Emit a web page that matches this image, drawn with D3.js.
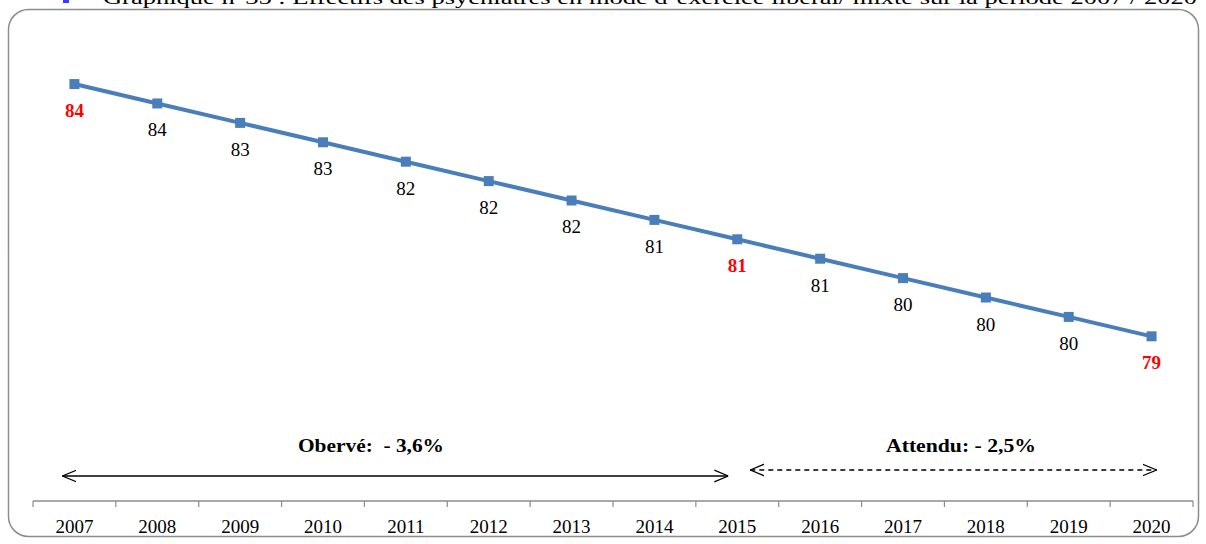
<!DOCTYPE html>
<html>
<head>
<meta charset="utf-8">
<script src="https://cdn.jsdelivr.net/npm/d3@7"></script>
<style>
  html, body { margin: 0; padding: 0; background: #fff; }
  svg { display: block; }
</style>
</head>
<body>
<svg id="chart" width="1206" height="544"></svg>
<script>
// Effectifs des psychiatres (libéral / mixte), 2007–2020
const years = ["2007","2008","2009","2010","2011","2012","2013","2014","2015","2016","2017","2018","2019","2020"];
const effectifs = [83.95, 83.58, 83.21, 82.84, 82.47, 82.10, 81.73, 81.36, 80.99, 80.62, 80.25, 79.88, 79.51, 79.14];
const highlightYears = ["2007", "2015", "2020"];
const periodLabels = ["Obervé:  - 3,6%", "Attendu: - 2,5%"];
const titleText = "Graphique n°35 : Effectifs des psychiatres en mode d’exercice libéral/ mixte sur la période 2007 / 2020";

const svg = d3.select("#chart");
const serif = "'Liberation Serif', 'Times New Roman', serif";

// Frame around the chart
svg.append("rect")
  .attr("x", 8.5).attr("y", 9.5)
  .attr("width", 1190).attr("height", 527)
  .attr("rx", 20).attr("ry", 20)
  .attr("fill", "none").attr("stroke", "#8c8c8c").attr("stroke-width", 1.5);

// Title (sits partly above the page edge)
svg.append("rect").attr("x", 63).attr("y", 0).attr("width", 6).attr("height", 3).attr("fill", "#3b3bff");
svg.append("text")
  .attr("x", 103).attr("y", 4)
  .attr("textLength", 1094).attr("lengthAdjust", "spacingAndGlyphs")
  .attr("font-family", serif).attr("font-size", 19).attr("fill", "#000")
  .text(titleText);

const x = d3.scaleBand().domain(years).range([33, 1193]);
const y = d3.scaleLinear().domain([76, 85]).range([501, 29]);
const cx = d => x(d) + x.bandwidth() / 2;

// Category axis along the bottom
const axis = svg.append("g").attr("transform", "translate(0,501)");
axis.append("line").attr("x1", 33).attr("x2", 1193).attr("stroke", "#8c8c8c").attr("stroke-width", 1.5);
axis.selectAll("line.tick")
  .data(years.concat(["end"]))
  .join("line")
  .attr("class", "tick")
  .attr("x1", (d, i) => 33 + i * x.step()).attr("x2", (d, i) => 33 + i * x.step())
  .attr("y1", 0).attr("y2", 6)
  .attr("stroke", "#8c8c8c").attr("stroke-width", 1.2);
axis.selectAll("text")
  .data(years)
  .join("text")
  .attr("x", cx).attr("y", 32)
  .attr("text-anchor", "middle")
  .attr("font-family", serif).attr("font-size", 19).attr("fill", "#000")
  .text(d => d);

// Series line and markers
const data = years.map((yr, i) => ({ yr, v: effectifs[i] }));
svg.append("path")
  .datum(data)
  .attr("fill", "none").attr("stroke", "#4a7ebb").attr("stroke-width", 4)
  .attr("d", d3.line().x(d => cx(d.yr)).y(d => y(d.v)));
svg.selectAll("rect.marker")
  .data(data)
  .join("rect")
  .attr("class", "marker")
  .attr("x", d => cx(d.yr) - 5).attr("y", d => y(d.v) - 5)
  .attr("width", 10).attr("height", 10)
  .attr("fill", "#4a7ebb");

// Value labels below each point
svg.selectAll("text.val")
  .data(data)
  .join("text")
  .attr("class", "val")
  .attr("x", d => cx(d.yr)).attr("y", d => y(d.v) + 33)
  .attr("text-anchor", "middle")
  .attr("font-family", serif).attr("font-size", 19)
  .attr("font-weight", d => highlightYears.includes(d.yr) ? "bold" : "normal")
  .attr("fill", d => highlightYears.includes(d.yr) ? "#ff0000" : "#000")
  .text(d => d3.format(".0f")(d.v));

// Period arrows and their labels
const defs = svg.append("defs");
["arrEnd", "arrStart"].forEach((id, k) => {
  defs.append("marker")
    .attr("id", id).attr("viewBox", "0 0 12 12")
    .attr("refX", k === 0 ? 12 : 0).attr("refY", 6)
    .attr("markerWidth", 14).attr("markerHeight", 14)
    .attr("markerUnits", "userSpaceOnUse").attr("orient", "auto")
    .append("path")
    .attr("d", k === 0 ? "M0,1 L12,6 L0,11" : "M12,1 L0,6 L12,11")
    .attr("fill", "none").attr("stroke", "#000").attr("stroke-width", 1.1);
});

const periods = [
  { from: "2007", to: "2015", yLine: 476, dash: null, label: periodLabels[0], lx: 371, len: 146 },
  { from: "2015", to: "2020", yLine: 470, dash: "5,4", label: periodLabels[1], lx: 961, len: 150 }
];
periods.forEach((p, i) => {
  const x1 = i === 0 ? cx(p.from) - 12 : cx(p.from) + 13;
  const x2 = i === 0 ? cx(p.to) - 9 : cx(p.to) + 5;
  svg.append("line")
    .attr("x1", x1).attr("x2", x2).attr("y1", p.yLine).attr("y2", p.yLine)
    .attr("stroke", "#000").attr("stroke-width", 1.3)
    .attr("stroke-dasharray", p.dash)
    .attr("marker-start", "url(#arrStart)").attr("marker-end", "url(#arrEnd)");
  svg.append("text")
    .attr("x", p.lx).attr("y", 452)
    .attr("text-anchor", "middle")
    .attr("textLength", p.len).attr("lengthAdjust", "spacingAndGlyphs")
    .attr("font-family", serif).attr("font-size", 19).attr("font-weight", "bold")
    .attr("fill", "#000").attr("xml:space", "preserve")
    .text(p.label);
});
</script>
</body>
</html>
